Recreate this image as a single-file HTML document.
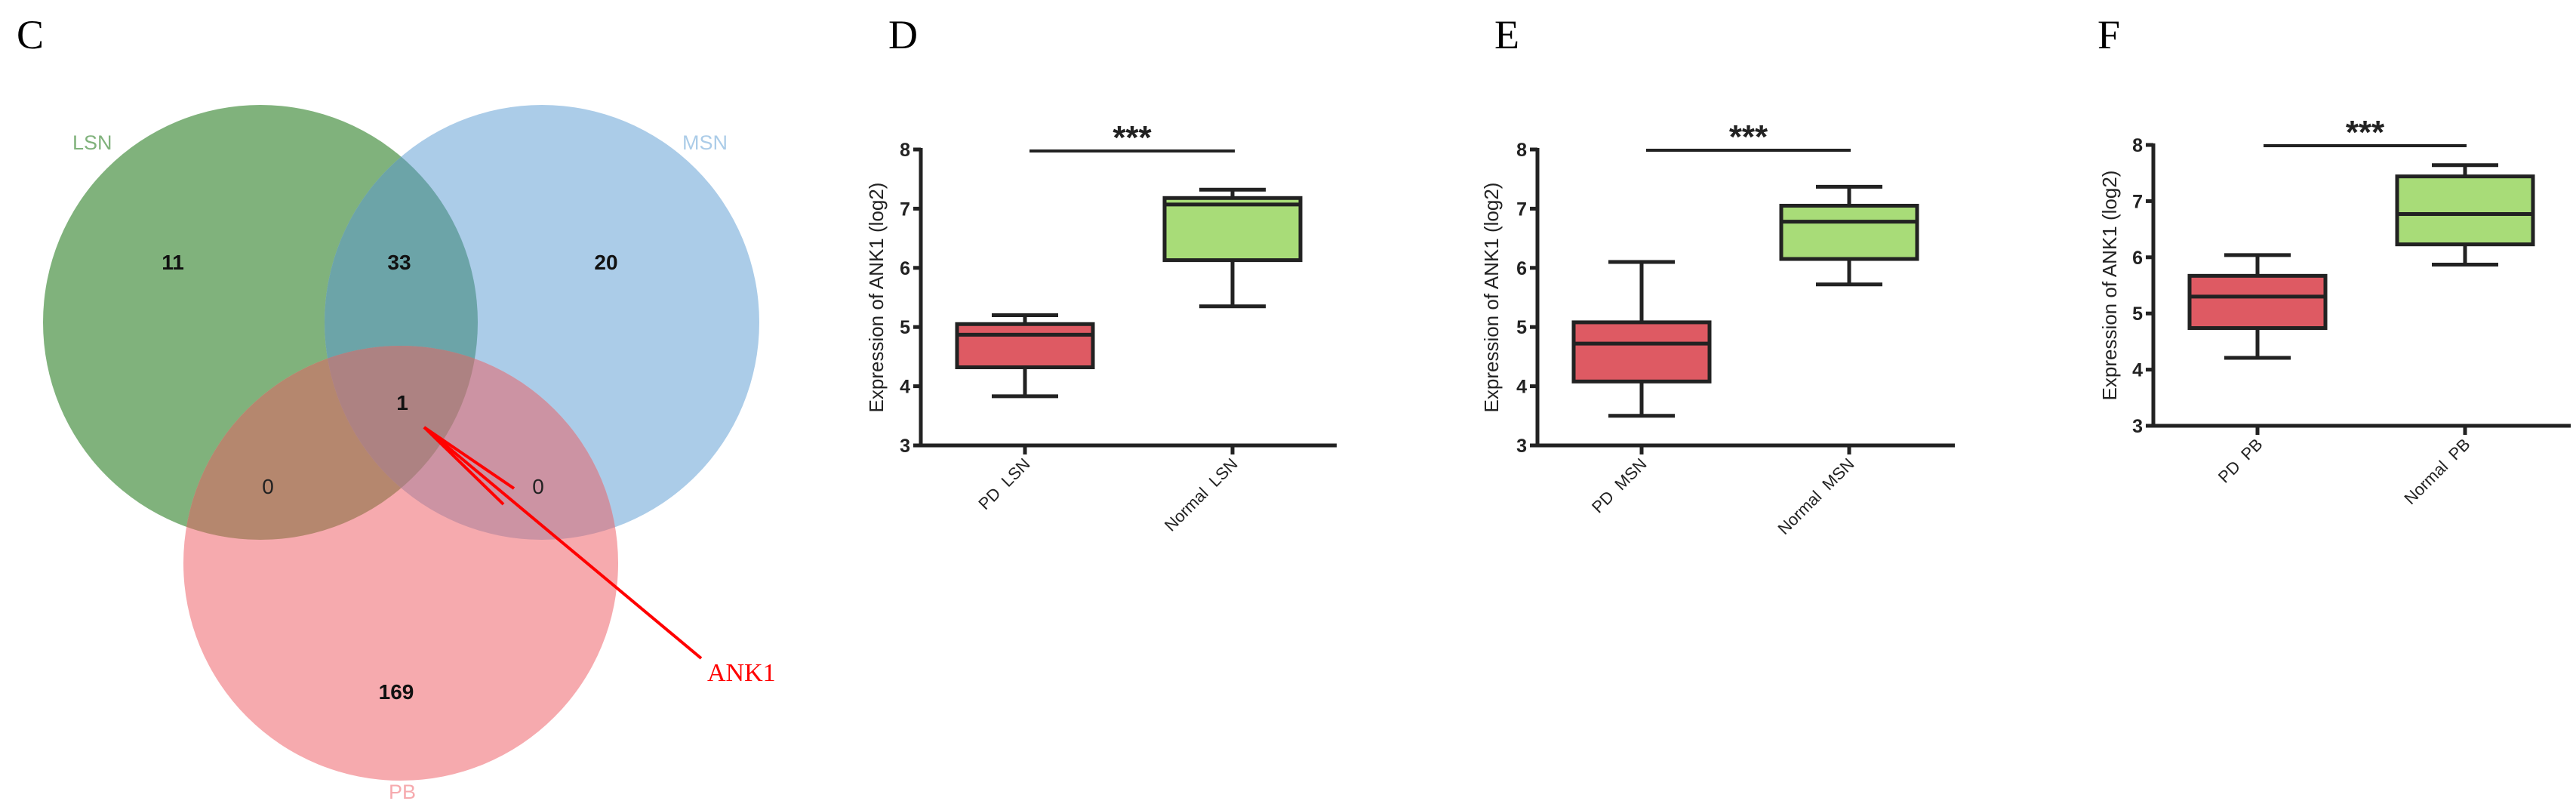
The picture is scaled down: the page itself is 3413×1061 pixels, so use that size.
<!DOCTYPE html>
<html><head><meta charset="utf-8"><style>
html,body{margin:0;padding:0;background:#fff;}
svg{display:block;}
text{font-family:"Liberation Sans",Arial,sans-serif;white-space:pre;}
</style></head><body>
<svg id="fig" width="3413" height="1061" viewBox="0 0 3413 1061" xmlns="http://www.w3.org/2000/svg">
<defs>
<clipPath id="cg"><circle cx="345" cy="427" r="288"/></clipPath>
<clipPath id="cb"><circle cx="718" cy="427" r="288"/></clipPath>
</defs>
<g>
<text x="22" y="64" font-family="Liberation Serif" style="font-family:'Liberation Serif',serif" font-size="54">C</text>
<circle cx="345" cy="427" r="288" fill="#80b27c"/>
<circle cx="718" cy="427" r="288" fill="#abcce8"/>
<circle cx="531" cy="746" r="288" fill="#f6aaae"/>
<circle cx="718" cy="427" r="288" fill="#6ca4a8" clip-path="url(#cg)"/>
<circle cx="531" cy="746" r="288" fill="#b5876e" clip-path="url(#cg)"/>
<circle cx="531" cy="746" r="288" fill="#cc93a3" clip-path="url(#cb)"/>
<g clip-path="url(#cg)"><circle cx="531" cy="746" r="288" fill="#ad8282" clip-path="url(#cb)"/></g>
<text x="96" y="198" font-size="27" fill="#80b27c">LSN</text>
<text x="904" y="198" font-size="27" fill="#abcce8">MSN</text>
<text x="533" y="1058" font-size="27" fill="#f6aaae" text-anchor="middle">PB</text>
<g font-size="28" font-weight="bold" fill="#111" text-anchor="middle">
<text x="229" y="357">11</text>
<text x="529" y="357">33</text>
<text x="803" y="357">20</text>
<text x="533" y="543">1</text>
<text x="525" y="926">169</text>
</g>
<g font-size="28" fill="#222" text-anchor="middle">
<text x="355" y="654">0</text>
<text x="713" y="654">0</text>
</g>
<g stroke="#f00" stroke-width="4" fill="none">
<line x1="929" y1="872" x2="562" y2="566"/>
<polyline points="681,647 562,566 667,668"/>
</g>
<text x="937" y="902" font-size="34" fill="#f00" style="font-family:'Liberation Serif',serif">ANK1</text>
</g>
<g id="panels"></g>
</svg>
<script>
const panelLetters = ["D", "E", "F"];
const catsD = ["PD  LSN", "Normal  LSN"];
const catsE = ["PD  MSN", "Normal  MSN"];
const catsF = ["PD  PB", "Normal  PB"];
const minD = [3.83, 5.35], q1D = [4.32, 6.13], medD = [4.87, 7.07], q3D = [5.05, 7.18], maxD = [5.20, 7.32];
const minE = [3.50, 5.72], q1E = [4.08, 6.15], medE = [4.72, 6.78], q3E = [5.08, 7.05], maxE = [6.10, 7.37];
const minF = [4.21, 5.87], q1F = [4.74, 6.23], medF = [5.30, 6.77], q3F = [5.67, 7.44], maxF = [6.04, 7.64];
const yTicks = [3, 4, 5, 6, 7, 8];
const sigLabel = "***";

const NS = "http://www.w3.org/2000/svg";
const root = document.getElementById("panels");
function mk(tag, attrs, parent) {
  const e = document.createElementNS(NS, tag);
  for (const k in attrs) e.setAttribute(k, attrs[k]);
  parent.appendChild(e);
  return e;
}
const layouts = [
  {ax: 1220, y8: 198, y3: 590, xend: 1771, tx: [1358, 1633], lx: 1177, titleX: 1161, sig: [1364, 1636, 200]},
  {ax: 2037, y8: 198, y3: 590, xend: 2590, tx: [2175, 2450], lx: 1980, titleX: 1976, sig: [2181, 2452, 199]},
  {ax: 2853, y8: 192, y3: 564, xend: 3406, tx: [2991, 3266], lx: 2779, titleX: 2795, sig: [2999, 3268, 193]}
];
const allData = [
  [catsD, minD, q1D, medD, q3D, maxD],
  [catsE, minE, q1E, medE, q3E, maxE],
  [catsF, minF, q1F, medF, q3F, maxF]
];
const fills = ["#de5a63", "#a8dc78"];
layouts.forEach((L, p) => {
  const [cats, mn, q1, md, q3, mx] = allData[p];
  const y = v => L.y3 + (v - 3) / 5 * (L.y8 - L.y3);
  const g = mk("g", {}, root);
  
  
  const lab = mk("text", {x: L.lx, y: 64, "font-size": 54, style: "font-family:'Liberation Serif',serif"}, g);
  
  
  lab.textContent = panelLetters[p];
  const yax = mk("line", {x1: L.ax, y1: L.y8 - 2, x2: L.ax, y2: L.y3 + 2, stroke: "#222", "stroke-width": 5}, g);
  
  
  const xax = mk("line", {x1: L.ax - 10, y1: L.y3, x2: L.xend, y2: L.y3, stroke: "#222", "stroke-width": 5}, g);
  
  
  yTicks.forEach(t => {
    const tk = mk("line", {x1: L.ax - 10, y1: y(t), x2: L.ax, y2: y(t), stroke: "#222", "stroke-width": 5}, g);
    
    
    const tl = mk("text", {x: L.ax - 14, y: y(t) + 9, "font-size": 25, "font-weight": "bold", "text-anchor": "end", fill: "#222"}, g);
    
    
    tl.textContent = t;
  });
  const tt = mk("text", {x: 0, y: 0, "font-size": 26, "text-anchor": "middle", fill: "#222", transform: `translate(${L.titleX + 9},${(L.y8 + L.y3) / 2}) rotate(-90)`}, g);
  
  
  tt.textContent = "Expression of ANK1 (log2)";
  const sl = mk("line", {x1: L.sig[0], y1: L.sig[2], x2: L.sig[1], y2: L.sig[2], stroke: "#222", "stroke-width": 4}, g);
  
  
  const st = mk("text", {x: (L.sig[0] + L.sig[1]) / 2, y: L.sig[2] - 3, "font-size": 44, "font-weight": "bold", "text-anchor": "middle", fill: "#222"}, g);
  
  
  st.textContent = sigLabel;
  cats.forEach((c, i) => {
    const cx = L.tx[i];
    const tk = mk("line", {x1: cx, y1: L.y3, x2: cx, y2: L.y3 + 12, stroke: "#222", "stroke-width": 5}, g);
    
    
    const xl = mk("text", {x: 0, y: 0, "font-size": 22, "text-anchor": "end", fill: "#222", transform: `translate(${cx + 8},${L.y3 + 26}) rotate(-45)`}, g);
    
    
    xl.textContent = c;
    const bg = mk("g", {stroke: "#222", "stroke-width": 5}, g);
    
    
    mk("line", {x1: cx, y1: y(mx[i]), x2: cx, y2: y(q3[i])}, bg);
    mk("line", {x1: cx, y1: y(q1[i]), x2: cx, y2: y(mn[i])}, bg);
    mk("line", {x1: cx - 44, y1: y(mx[i]), x2: cx + 44, y2: y(mx[i])}, bg);
    mk("line", {x1: cx - 44, y1: y(mn[i]), x2: cx + 44, y2: y(mn[i])}, bg);
    mk("rect", {x: cx - 90, y: y(q3[i]), width: 180, height: y(q1[i]) - y(q3[i]), fill: fills[i]}, bg);
    mk("line", {x1: cx - 90, y1: y(md[i]), x2: cx + 90, y2: y(md[i])}, bg);
  });
});
</script>
</body></html>
